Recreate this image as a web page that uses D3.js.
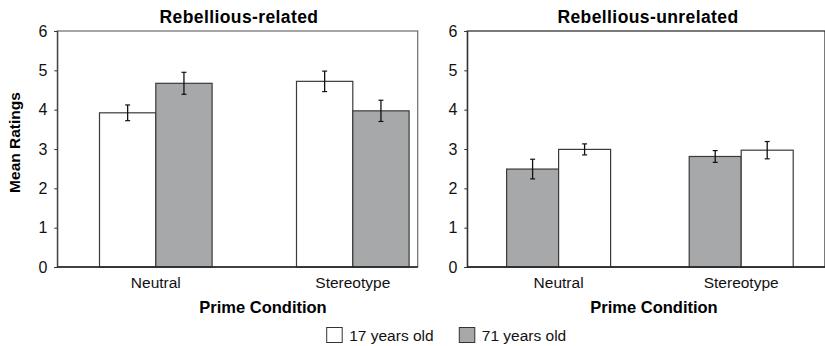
<!DOCTYPE html>
<html>
<head>
<meta charset="utf-8">
<script src="https://cdn.jsdelivr.net/npm/d3@7"></script>
<style>
  body { margin: 0; background: #fff; }
  svg { display: block; font-family: "Liberation Sans", Arial, Helvetica, sans-serif; }
</style>
</head>
<body>
<svg id="chart" width="825" height="346"></svg>
<script>
// ---- data ----
const categories = ["Neutral", "Stereotype"];
const seriesNames = ["17 years old", "71 years old"];
const yTicks = [0, 1, 2, 3, 4, 5, 6];

const related17 = [3.92, 4.72];
const related17Err = [0.20, 0.26];
const related71 = [4.67, 3.97];
const related71Err = [0.28, 0.27];

const unrelated17 = [2.99, 2.97];
const unrelated17Err = [0.14, 0.22];
const unrelated71 = [2.49, 2.81];
const unrelated71Err = [0.25, 0.15];

const panelTitles = ["Rebellious-related", "Rebellious-unrelated"];
const xTitle = "Prime Condition";
const yTitle = "Mean Ratings";

// ---- styling ----
const colors = { "17 years old": "#ffffff", "71 years old": "#a7a8aa" };

const svg = d3.select("#chart");
const plotTop = 31, plotBottom = 267;
const y = d3.scaleLinear().domain([0, 6]).range([plotBottom, plotTop]);

function buildRows(order, data) {
  return categories.map((c, i) => ({
    cat: c,
    bars: order.map(s => ({ series: s, value: data[s].v[i], err: data[s].e[i] }))
  }));
}

const panels = [
  {
    title: panelTitles[0], left: 57.3, right: 417.7, step: 197, barW: 56.3, titleX: 239, xTitleX: 263,
    order: ["17 years old", "71 years old"],
    data: { "17 years old": { v: related17, e: related17Err }, "71 years old": { v: related71, e: related71Err } },
    frameColor: "#6a6a6a"
  },
  {
    title: panelTitles[1], left: 467.3, right: 825, step: 182.6, barW: 52, titleX: 648, xTitleX: 654,
    order: ["71 years old", "17 years old"],
    data: { "17 years old": { v: unrelated17, e: unrelated17Err }, "71 years old": { v: unrelated71, e: unrelated71Err } },
    frameColor: "#222"
  }
];

panels.forEach(p => {
  const g = svg.append("g");
  const x0 = d3.scaleBand().domain(categories).range([p.left, p.left + 2 * p.step]).padding(0);
  const x1 = d3.scaleBand().domain(p.order).range([-p.barW, p.barW]).padding(0);

  // frame
  g.append("rect")
    .attr("x", p.left).attr("y", plotTop)
    .attr("width", p.right - p.left).attr("height", plotBottom - plotTop)
    .attr("fill", "none").attr("stroke", p.frameColor).attr("stroke-width", 1.2);

  // y axis
  const yAxis = d3.axisLeft(y).tickValues(yTicks).tickSize(3).tickPadding(7).tickFormat(d3.format("d"));
  const ya = g.append("g").attr("transform", `translate(${p.left},0)`).call(yAxis);
  ya.select(".domain").attr("stroke", "#333");
  ya.selectAll(".tick line").attr("stroke", "#333");
  ya.selectAll(".tick text").attr("font-size", 16).attr("fill", "#111")
    .attr("font-family", "'Liberation Sans', Arial, sans-serif");

  const rows = buildRows(p.order, p.data);
  const grp = g.selectAll("g.cat").data(rows).enter().append("g")
    .attr("transform", d => `translate(${x0(d.cat) + x0.bandwidth() / 2},0)`);

  grp.selectAll("rect").data(d => d.bars).enter().append("rect")
    .attr("x", d => x1(d.series))
    .attr("y", d => y(d.value))
    .attr("width", x1.bandwidth())
    .attr("height", d => y(0) - y(d.value))
    .attr("fill", d => colors[d.series])
    .attr("stroke", "#3a3a3a").attr("stroke-width", 1.2);

  // error bars
  const eb = grp.selectAll("g.err").data(d => d.bars).enter().append("g")
    .attr("transform", d => `translate(${x1(d.series) + x1.bandwidth() / 2},0)`);
  eb.append("line").attr("x1", 0).attr("x2", 0)
    .attr("y1", d => y(d.value + d.err)).attr("y2", d => y(d.value - d.err))
    .attr("stroke", "#111").attr("stroke-width", 1.3);
  eb.append("line").attr("x1", -2.5).attr("x2", 2.5)
    .attr("y1", d => y(d.value + d.err)).attr("y2", d => y(d.value + d.err))
    .attr("stroke", "#111").attr("stroke-width", 1.2);
  eb.append("line").attr("x1", -2.5).attr("x2", 2.5)
    .attr("y1", d => y(d.value - d.err)).attr("y2", d => y(d.value - d.err))
    .attr("stroke", "#111").attr("stroke-width", 1.2);

  // baseline
  g.append("line").attr("x1", p.left).attr("x2", p.right)
    .attr("y1", y(0)).attr("y2", y(0)).attr("stroke", "#222").attr("stroke-width", 1.3);

  // x category labels
  g.selectAll("text.cat").data(categories).enter().append("text")
    .attr("x", d => x0(d) + x0.bandwidth() / 2)
    .attr("y", 288)
    .attr("text-anchor", "middle").attr("font-size", 15.5).attr("fill", "#111")
    .text(d => d);

  // titles
  g.append("text").attr("x", p.titleX).attr("y", 23.3)
    .attr("text-anchor", "middle").attr("font-size", 17.5).attr("font-weight", "bold")
    .attr("letter-spacing", 0.4).attr("fill", "#000").text(p.title);

  g.append("text").attr("x", p.xTitleX).attr("y", 313)
    .attr("text-anchor", "middle").attr("font-size", 16.5).attr("font-weight", "bold")
    .attr("fill", "#000").text(xTitle);
});

// y title
svg.append("text")
  .attr("transform", "translate(20,142.5) rotate(-90)")
  .attr("text-anchor", "middle").attr("font-size", 15.5).attr("font-weight", "bold")
  .attr("fill", "#000").text(yTitle);

// legend
const legendX = [326.7, 459.3];
const lg = svg.selectAll("g.leg").data(seriesNames).enter().append("g")
  .attr("transform", (d, i) => `translate(${legendX[i]},327.5)`);
lg.append("rect").attr("width", 15.5).attr("height", 15).attr("fill", d => colors[d])
  .attr("stroke", "#333").attr("stroke-width", 1);
lg.append("text").attr("x", 22.5).attr("y", 13).attr("font-size", 15.5).attr("fill", "#111").text(d => d);
</script>
</body>
</html>
